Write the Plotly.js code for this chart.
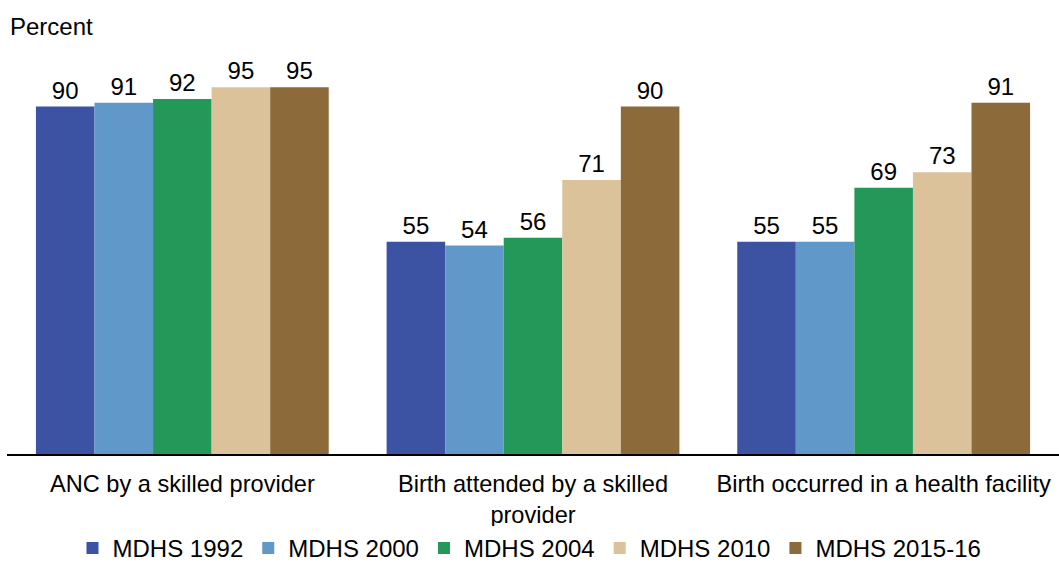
<!DOCTYPE html>
<html>
<head>
<meta charset="utf-8">
<script src="https://cdn.plot.ly/plotly-3.0.1.min.js"></script>
<style>
  html, body { margin: 0; padding: 0; background: #fff; }
  #chart { width: 1059px; height: 563px; }
</style>
</head>
<body>
<div id="chart"></div>
<script>
// Indicator categories along the x axis
const categories = [
  "ANC by a skilled provider",
  "Birth attended by a skilled<br>provider",
  "Birth occurred in a health facility"
];

// Survey rounds
const surveys = ["MDHS 1992", "MDHS 2000", "MDHS 2004", "MDHS 2010", "MDHS 2015-16"];

// Percent values per survey, in category order
const mdhs1992 = [90, 55, 55];
const mdhs2000 = [91, 54, 55];
const mdhs2004 = [92, 56, 69];
const mdhs2010 = [95, 71, 73];
const mdhs2015 = [95, 90, 91];

const seriesValues = [mdhs1992, mdhs2000, mdhs2004, mdhs2010, mdhs2015];
const colors = ["#3C52A2", "#6198CA", "#239858", "#DCC29A", "#8D6A3A"];

const fontFamily = "Liberation Sans, Arial, sans-serif";

const traces = surveys.map((name, i) => ({
  type: "bar",
  name: name,
  x: categories,
  y: seriesValues[i],
  text: seriesValues[i].map(String),
  textposition: "outside",
  textfont: { family: fontFamily, size: 24, color: "#000" },
  cliponaxis: false,
  marker: { color: colors[i], line: { width: 0 } },
  hoverinfo: "skip"
}));

const layout = {
  width: 1059,
  height: 563,
  margin: { l: 7, r: 0, t: 68, b: 109 },
  paper_bgcolor: "#fff",
  plot_bgcolor: "#fff",
  barmode: "group",
  bargap: 0.165,
  bargroupgap: 0,
  font: { family: fontFamily, size: 24, color: "#000" },
  xaxis: {
    showline: true,
    linecolor: "#000",
    linewidth: 1.5,
    ticks: "",
    automargin: false,
    ticklabelstandoff: 8,
    tickfont: { family: fontFamily, size: 23.6, color: "#000" },
    fixedrange: true
  },
  yaxis: {
    range: [0, 100],
    visible: false,
    automargin: false,
    fixedrange: true
  },
  showlegend: true,
  legend: {
    orientation: "h",
    x: 0.5,
    xanchor: "center",
    xref: "container",
    yref: "container",
    y: 0.066,
    yanchor: "top",
    font: { family: fontFamily, size: 24, color: "#000" },
    itemwidth: 30,
    traceorder: "normal"
  },
  annotations: [{
    text: "Percent",
    xref: "paper",
    yref: "paper",
    x: 0,
    y: 1,
    xanchor: "left",
    yanchor: "bottom",
    xshift: 1,
    yshift: 26,
    showarrow: false,
    font: { family: fontFamily, size: 24, color: "#000" }
  }]
};

Plotly.newPlot("chart", traces, layout, { displayModeBar: false, staticPlot: true });
</script>
</body>
</html>
